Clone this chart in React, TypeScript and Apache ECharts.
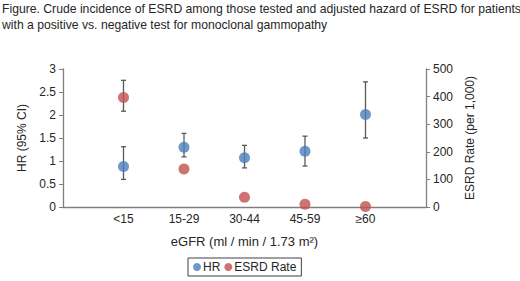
import React, { useEffect, useRef } from "react";
import * as echarts from "echarts";

const categories = ["", "<15", "15-29", "30-44", "45-59", "≥60", ""];
const hrValues = [null, 0.88, 1.3, 1.07, 1.21, 2.01, null];
const hrLow = [null, 0.6, 1.09, 0.85, 0.89, 1.5, null];
const hrHigh = [null, 1.31, 1.6, 1.34, 1.54, 2.72, null];
const esrdRate = [null, 397, 138, 35, 10, 2, null];
const esrdLow = [null, 347, null, null, null, null, null];
const esrdHigh = [null, 459, null, null, null, null, null];
const leftTicks = [0, 0.5, 1, 1.5, 2, 2.5, 3];
const rightTicks = [0, 100, 200, 300, 400, 500];

const FONT = "'Liberation Sans', Arial, sans-serif";
const TEXT = "#262626";
const AXIS = "#7f7f7f";
const BAR = "#595959";

function errorData(low: (number | null)[], high: (number | null)[]) {
  const out: any[] = [];
  low.forEach((l, i) => {
    const h = high[i];
    if (l != null && h != null) out.push([i, l, h]);
  });
  return out;
}

function renderError(params: any, api: any) {
  const x = api.value(0);
  const lo = api.coord([x, api.value(1)]);
  const hi = api.coord([x, api.value(2)]);
  const cap = 2.5;
  const style = { stroke: BAR, lineWidth: 1.3 };
  return {
    type: "group",
    children: [
      { type: "line", shape: { x1: lo[0], y1: lo[1], x2: hi[0], y2: hi[1] }, style },
      { type: "line", shape: { x1: lo[0] - cap, y1: lo[1], x2: lo[0] + cap, y2: lo[1] }, style },
      { type: "line", shape: { x1: hi[0] - cap, y1: hi[1], x2: hi[0] + cap, y2: hi[1] }, style },
    ],
  };
}

export default function App() {
  const ref = useRef<HTMLDivElement>(null);
  useEffect(() => {
    if (!ref.current) return;
    const chart = echarts.init(ref.current, undefined, { renderer: "svg" });
    chart.setOption({
      animation: false,
      backgroundColor: "#ffffff",
      textStyle: { fontFamily: FONT },
      title: {
        text:
          "Figure. Crude incidence of ESRD among those tested and adjusted hazard of ESRD for patients\nwith a positive vs. negative test for monoclonal gammopathy",
        left: 2,
        top: 1,
        padding: 0,
        textStyle: {
          fontFamily: FONT,
          fontSize: 12.2,
          fontWeight: "normal",
          color: TEXT,
          lineHeight: 16,
        },
      },
      legend: {
        data: [
          { name: "HR", icon: "circle" },
          { name: "ESRD Rate", icon: "circle" },
        ],
        left: 188,
        top: 258,
        itemWidth: 8,
        itemHeight: 8,
        itemGap: 4,
        padding: [3, 5, 3, 5],
        borderColor: "#404040",
        borderWidth: 1,
        textStyle: { fontFamily: FONT, fontSize: 12, color: TEXT, padding: [0, 0, 0, -3] },
      },
      grid: { left: 63, right: 94, top: 69, bottom: 74 },
      xAxis: {
        type: "category",
        data: categories,
        boundaryGap: false,
        name: "eGFR (ml / min / 1.73 m²)",
        nameLocation: "middle",
        nameGap: 28,
        nameTextStyle: { fontFamily: FONT, fontSize: 13, color: TEXT },
        axisLine: { lineStyle: { color: AXIS, width: 1.3 } },
        axisTick: { show: false },
        axisLabel: { fontFamily: FONT, fontSize: 12, color: TEXT, margin: 6, interval: 0 },
        splitLine: { show: false },
      },
      yAxis: [
        {
          type: "value",
          min: leftTicks[0],
          max: leftTicks[leftTicks.length - 1],
          interval: 0.5,
          name: "HR (95% CI)",
          nameLocation: "middle",
          nameGap: 29,
          nameTextStyle: { fontFamily: FONT, fontSize: 12, color: TEXT },
          axisLine: { show: true, lineStyle: { color: AXIS, width: 1.3 } },
          axisTick: { show: true, length: 4, lineStyle: { color: AXIS } },
          axisLabel: { fontFamily: FONT, fontSize: 12, color: TEXT, margin: 7 },
          splitLine: { show: false },
        },
        {
          type: "value",
          position: "right",
          min: rightTicks[0],
          max: rightTicks[rightTicks.length - 1],
          interval: 100,
          name: "ESRD Rate (per 1,000)",
          nameLocation: "middle",
          nameGap: 22,
          nameRotate: 90,
          nameTextStyle: { fontFamily: FONT, fontSize: 12, color: TEXT },
          axisLine: { show: true, lineStyle: { color: AXIS, width: 1.3 } },
          axisTick: { show: true, length: 4, lineStyle: { color: AXIS } },
          axisLabel: { fontFamily: FONT, fontSize: 12, color: TEXT, margin: 7 },
          splitLine: { show: false },
        },
      ],
      series: [
        {
          name: "HR err",
          type: "custom",
          yAxisIndex: 0,
          renderItem: renderError,
          data: errorData(hrLow, hrHigh),
          encode: { x: 0, y: [1, 2] },
          z: 1,
          silent: true,
        },
        {
          name: "ESRD err",
          type: "custom",
          yAxisIndex: 1,
          renderItem: renderError,
          data: errorData(esrdLow, esrdHigh),
          encode: { x: 0, y: [1, 2] },
          z: 1,
          silent: true,
        },
        {
          name: "HR",
          type: "scatter",
          yAxisIndex: 0,
          data: hrValues,
          symbol: "circle",
          symbolSize: 11,
          itemStyle: { color: "#4a7ebb" },
          z: 3,
        },
        {
          name: "ESRD Rate",
          type: "scatter",
          yAxisIndex: 1,
          data: esrdRate,
          symbol: "circle",
          symbolSize: 11,
          itemStyle: { color: "#c0504d" },
          z: 3,
        },
      ],
    });
    return () => chart.dispose();
  }, []);
  return <div ref={ref} style={{ width: 520, height: 281, position: "absolute", left: 0, top: 0 }} />;
}
